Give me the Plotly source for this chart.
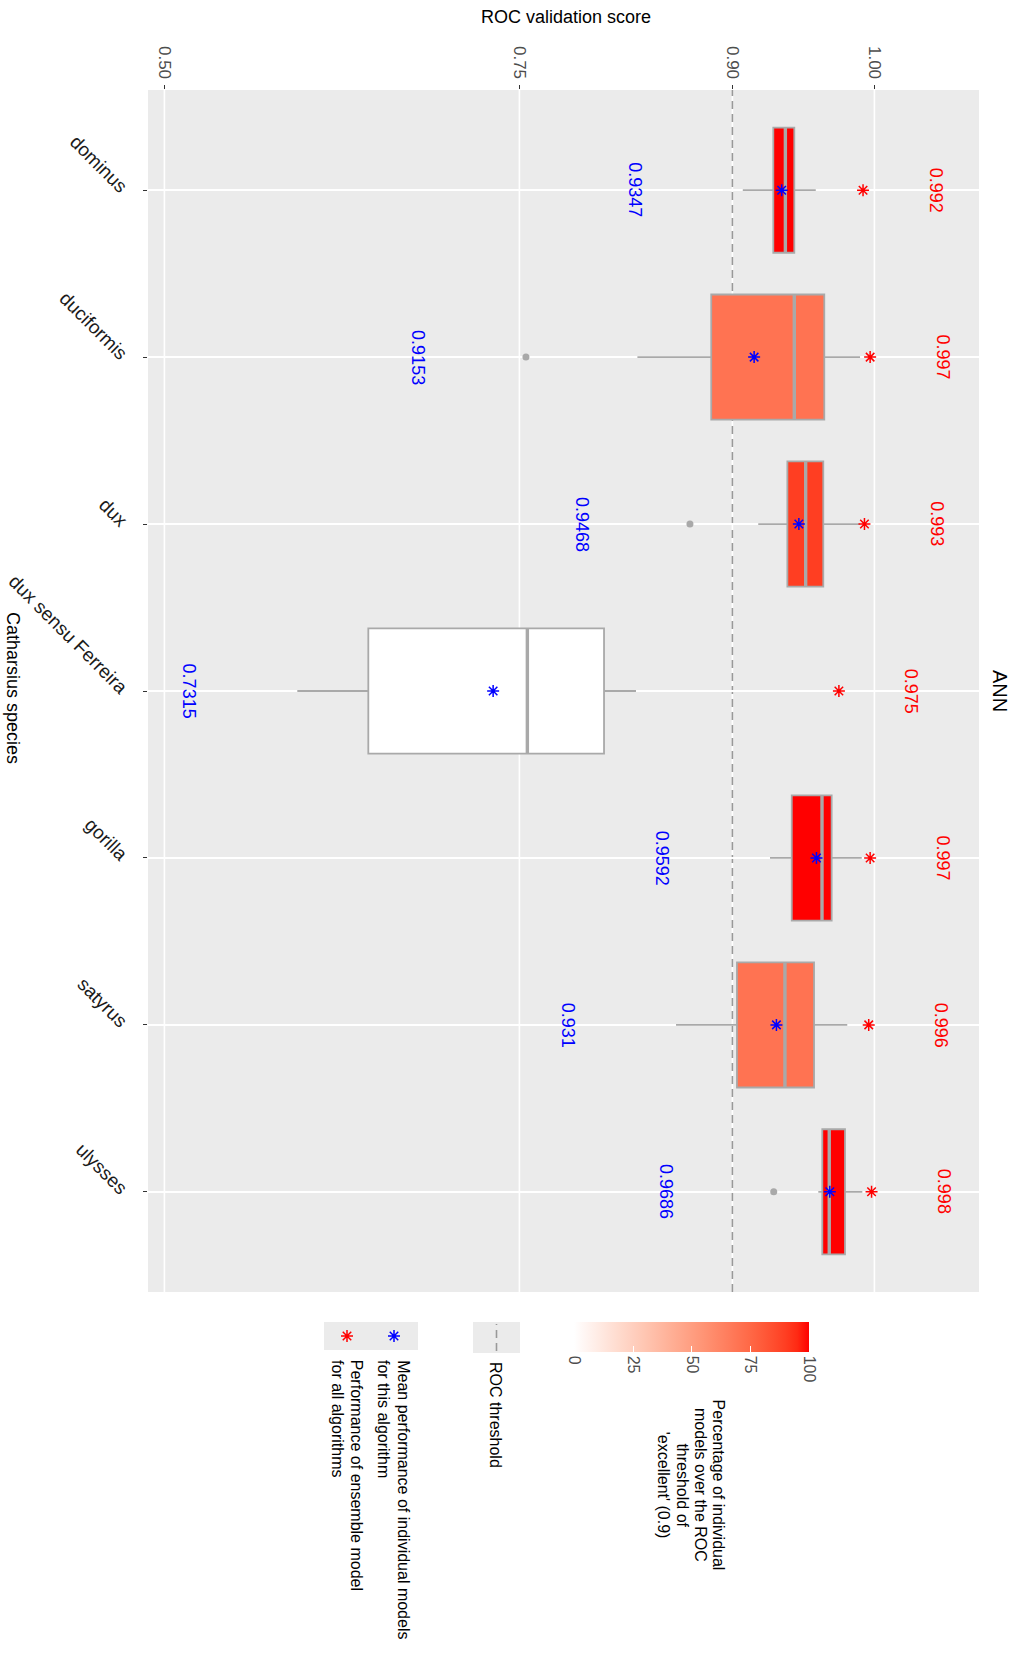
import plotly.graph_objects as go
import numpy as np

# ---------------- data ----------------
species = ["dominus", "duciformis", "dux", "dux sensu Ferreira", "gorilla", "satyrus", "ulysses"]
q1 = [0.9288, 0.8851, 0.9387, 0.6436, 0.9418, 0.9032, 0.9633]
median = [0.9373, 0.9436, 0.9516, 0.7556, 0.9631, 0.9370, 0.9682]
q3 = [0.9436, 0.9647, 0.9640, 0.8096, 0.9699, 0.9575, 0.9793]
lower_whisker = [0.9073, 0.8331, 0.9182, 0.5936, 0.9265, 0.8603, 0.9605]
upper_whisker = [0.9587, 0.9899, 0.9899, 0.8321, 0.9911, 0.9809, 0.9915]
outliers = [[], [0.7546], [0.8701], [], [], [], [0.9291]]
mean_score = [0.9347, 0.9153, 0.9468, 0.7315, 0.9592, 0.931, 0.9686]
ensemble_score = [0.992, 0.997, 0.993, 0.975, 0.997, 0.996, 0.998]
pct_excellent = [100, 70, 90, 0, 100, 70, 100]
threshold = 0.9
score_ticks = [0.50, 0.75, 0.90, 1.00]
score_ticktext = ["0.50", "0.75", "0.90", "1.00"]
pct_ticks = [0, 25, 50, 75, 100]
cbar_title_lines = ["Percentage of individual", "models over the ROC", "threshold of", "'excellent' (0.9)"]
mean_legend_lines = ["Mean performance of individual models", "for this algorithm"]
ens_legend_lines = ["Performance of ensemble model", "for all algorithms"]

# ---------------- geometry / style ----------------
W, H = 1016, 1663
PL, PR, PT, PB = 148, 979, 90, 1292
XMIN, XMAX = 0.48845, 1.07366
FONT = "Liberation Sans, Arial, Helvetica, sans-serif"
BOXLINE = "#A9A9A9"
PANEL = "#EBEBEB"
DASH = "#999999"
BOXW = 0.75
LEG_FONT = 16


def px(x):
    return x / W


def py(y):
    return 1 - y / H


# white -> red gradient interpolated in CIE Lab (as ggplot does)
def lab_to_hex(L, a, b):
    fy = (L + 16) / 116
    fx = fy + a / 500
    fz = fy - b / 200

    def finv(t):
        return t ** 3 if t ** 3 > 0.008856 else (t - 16 / 116) / 7.787

    X = 0.95047 * finv(fx)
    Y = finv(fy)
    Z = 1.08883 * finv(fz)
    r = 3.2406 * X - 1.5372 * Y - 0.4986 * Z
    g = -0.9689 * X + 1.8758 * Y + 0.0415 * Z
    bb = 0.0557 * X - 0.2040 * Y + 1.0570 * Z

    def gam(c):
        c = min(max(c, 0), 1)
        return 1.055 * c ** (1 / 2.4) - 0.055 if c > 0.0031308 else 12.92 * c

    return "#%02x%02x%02x" % tuple(int(round(gam(c) * 255)) for c in (r, g, bb))


WHITE_LAB = (100.0, 0.0, 0.0)
RED_LAB = (53.2408, 80.0925, 67.2032)


def grad(t):
    return lab_to_hex(*[w + (r - w) * t for w, r in zip(WHITE_LAB, RED_LAB)])


colorscale = [[float(t), grad(float(t))] for t in np.linspace(0, 1, 21)]

fig = go.Figure()

# boxes
for i, sp in enumerate(species):
    fig.add_trace(go.Box(
        orientation="h", y=[i], q1=[q1[i]], median=[median[i]], q3=[q3[i]],
        lowerfence=[lower_whisker[i]], upperfence=[upper_whisker[i]],
        width=BOXW, whiskerwidth=0, boxpoints=False,
        fillcolor=grad(pct_excellent[i] / 100), line=dict(color=BOXLINE, width=1.8),
        showlegend=False, hoverinfo="skip", xaxis="x", yaxis="y",
    ))

# thicker median segments
mx, my = [], []
for i in range(len(species)):
    mx += [median[i], median[i], None]
    my += [i - BOXW / 2, i + BOXW / 2, None]
fig.add_trace(go.Scatter(x=mx, y=my, mode="lines", line=dict(color=BOXLINE, width=3.4),
                         showlegend=False, hoverinfo="skip"))

# outliers
ox, oy = [], []
for i, vals in enumerate(outliers):
    for v in vals:
        ox.append(v)
        oy.append(i)
fig.add_trace(go.Scatter(x=ox, y=oy, mode="markers",
                         marker=dict(color=BOXLINE, size=7, symbol="circle"),
                         showlegend=False, hoverinfo="skip"))

# mean and ensemble stars
ypos = list(range(len(species)))
fig.add_trace(go.Scatter(x=mean_score, y=ypos, mode="markers",
                         marker=dict(symbol="asterisk-open", size=10, color="blue",
                                     line=dict(color="blue", width=1.5)),
                         showlegend=False, hoverinfo="skip"))
fig.add_trace(go.Scatter(x=ensemble_score, y=ypos, mode="markers",
                         marker=dict(symbol="asterisk-open", size=10, color="red",
                                     line=dict(color="red", width=1.5)),
                         showlegend=False, hoverinfo="skip"))

# colour bar carrier (fully transparent markers)
fig.add_trace(go.Scatter(
    x=median, y=ypos, mode="markers",
    marker=dict(size=1, opacity=0, color=pct_excellent, colorscale=colorscale, cmin=0, cmax=100,
                showscale=True,
                colorbar=dict(orientation="h", x=px((574.5 + 809) / 2), xanchor="center",
                              y=py(1322), yanchor="top", len=234.5, lenmode="pixels",
                              thickness=30, thicknessmode="pixels", xpad=0, ypad=0,
                              outlinewidth=0, tickvals=pct_ticks, ticks="inside",
                              tickcolor="white", ticklen=6, tickwidth=1.2, tickangle=90,
                              tickfont=dict(family=FONT, size=LEG_FONT, color="#4D4D4D"))),
    showlegend=False, hoverinfo="skip"))

# legend star keys on an overlay pixel axis
fig.add_trace(go.Scatter(x=[347, 394], y=[1336, 1336], mode="markers",
                         marker=dict(symbol="asterisk-open", size=10, color=["red", "blue"],
                                     line=dict(color=["red", "blue"], width=1.5)),
                         xaxis="x2", yaxis="y2", showlegend=False, hoverinfo="skip"))

# ---------------- annotations ----------------
ann = []
for i in range(len(species)):
    lo = min([lower_whisker[i]] + outliers[i])
    ann.append(dict(x=lo - 0.076, y=i, xref="x", yref="y", text=f"{mean_score[i]:g}",
                    textangle=90, showarrow=False, xanchor="center", yanchor="middle",
                    font=dict(family=FONT, size=18, color="blue")))
    ann.append(dict(x=ensemble_score[i] + 0.051, y=i, xref="x", yref="y",
                    text=f"{ensemble_score[i]:g}", textangle=90, showarrow=False,
                    xanchor="center", yanchor="middle",
                    font=dict(family=FONT, size=18, color="red")))

ann.append(dict(x=px(566), y=py(17), xref="paper", yref="paper", text="ROC validation score",
                showarrow=False, xanchor="center", yanchor="middle",
                font=dict(family=FONT, size=18, color="black")))
ann.append(dict(x=px(13), y=py(688), xref="paper", yref="paper", text="Catharsius species",
                textangle=90, showarrow=False, xanchor="center", yanchor="middle",
                font=dict(family=FONT, size=18, color="black")))
ann.append(dict(x=px(1000), y=py(691), xref="paper", yref="paper", text="ANN",
                textangle=90, showarrow=False, xanchor="center", yanchor="middle",
                font=dict(family=FONT, size=20, color="black")))

for k, line in enumerate(cbar_title_lines):
    ann.append(dict(x=px(719.4 - 18.4 * k), y=py(1485), xref="paper", yref="paper", text=line,
                    textangle=90, showarrow=False, xanchor="center", yanchor="middle",
                    font=dict(family=FONT, size=LEG_FONT, color="black")))
ann.append(dict(x=px(496), y=py(1360), xref="paper", yref="paper", text="ROC threshold",
                textangle=90, showarrow=False, xanchor="center", yanchor="top",
                font=dict(family=FONT, size=LEG_FONT, color="black")))
for k, line in enumerate(mean_legend_lines):
    ann.append(dict(x=px(403.3 - 19.3 * k), y=py(1358), xref="paper", yref="paper", text=line,
                    textangle=90, showarrow=False, xanchor="center", yanchor="top",
                    font=dict(family=FONT, size=LEG_FONT, color="black")))
for k, line in enumerate(ens_legend_lines):
    ann.append(dict(x=px(356.7 - 19.3 * k), y=py(1358), xref="paper", yref="paper", text=line,
                    textangle=90, showarrow=False, xanchor="center", yanchor="top",
                    font=dict(family=FONT, size=LEG_FONT, color="black")))

# ---------------- shapes ----------------
shapes = [dict(type="rect", xref="x domain", yref="y domain", x0=0, x1=1, y0=0, y1=1,
               fillcolor=PANEL, line=dict(width=0), layer="below")]
# vertical major grid lines (drawn as shapes so the dashed threshold can sit on top)
for t in score_ticks:
    shapes.append(dict(type="line", xref="x", yref="y domain", x0=t, x1=t, y0=0, y1=1,
                       line=dict(color="white", width=1.6), layer="below"))
shapes.append(dict(type="line", xref="x", yref="y domain", x0=threshold, x1=threshold, y0=0, y1=1,
                   line=dict(color=DASH, width=1.6, dash="8px,5px"), layer="below"))
# legend keys
shapes += [
    dict(type="rect", xref="paper", yref="paper", x0=px(473), x1=px(520), y0=py(1353), y1=py(1322),
         fillcolor=PANEL, line=dict(width=0), layer="below"),
    dict(type="line", xref="paper", yref="paper", x0=px(496.5), x1=px(496.5), y0=py(1351), y1=py(1324),
         line=dict(color=DASH, width=1.6, dash="8px,5px"), layer="above"),
    dict(type="rect", xref="paper", yref="paper", x0=px(324), x1=px(418), y0=py(1350), y1=py(1322),
         fillcolor=PANEL, line=dict(width=0), layer="below"),
]

fig.update_layout(
    width=W, height=H, margin=dict(l=0, r=0, t=0, b=0, autoexpand=False),
    paper_bgcolor="white", plot_bgcolor="rgba(0,0,0,0)",
    font=dict(family=FONT),
    xaxis=dict(domain=[px(PL), px(PR)], range=[XMIN, XMAX], side="top", anchor="y",
               tickvals=score_ticks, ticktext=score_ticktext, tickangle=90,
               tickfont=dict(family=FONT, size=17, color="#4D4D4D"),
               ticks="outside", ticklen=4, tickcolor="#333333", tickwidth=1.2,
               showgrid=False, zeroline=False, showline=False, fixedrange=True),
    yaxis=dict(domain=[py(PB), py(PT)], range=[6.6, -0.6], anchor="x",
               tickvals=ypos, ticktext=species, tickangle=45, ticklabelstandoff=13,
               tickfont=dict(family=FONT, size=19, color="#1A1A1A"),
               ticks="outside", ticklen=4, tickcolor="#333333", tickwidth=1.2,
               showgrid=True, gridcolor="white", gridwidth=1.6, zeroline=False,
               showline=False, fixedrange=True),
    xaxis2=dict(domain=[0, 1], range=[0, W], anchor="y2", visible=False, fixedrange=True),
    yaxis2=dict(domain=[0, 1], range=[H, 0], anchor="x2", visible=False, fixedrange=True),
    annotations=ann, shapes=shapes, showlegend=False,
)

fig.write_html("out.html", config={"displayModeBar": False},
               post_script="document.body.style.margin='0px';")
